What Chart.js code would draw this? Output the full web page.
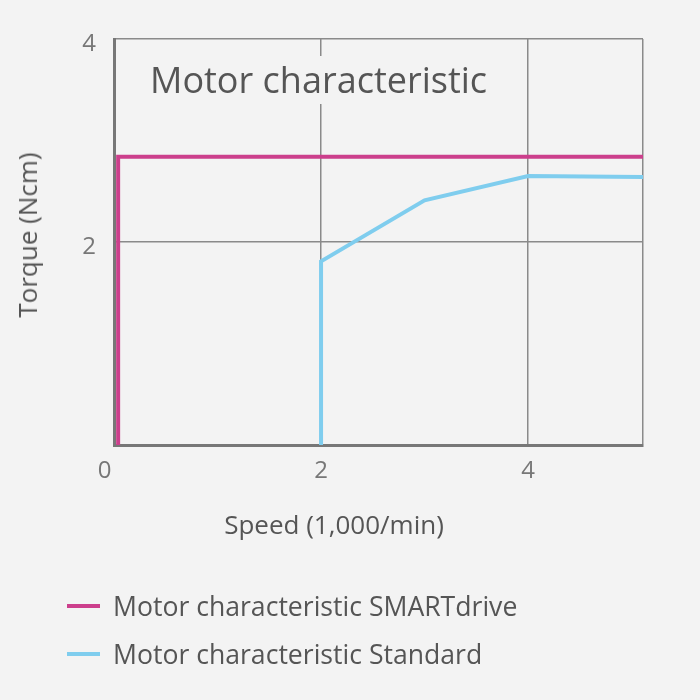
<!DOCTYPE html>
<html>
<head>
<meta charset="utf-8">
<script src="https://cdn.jsdelivr.net/npm/chart.js@4.4.1/dist/chart.umd.min.js"></script>
<style>
  html, body { margin: 0; padding: 0; background: #f3f3f3; }
  #wrap { position: relative; width: 700px; height: 700px; font-family: "Open Sans", sans-serif; color: #555; }
  #chart { position: absolute; left: 0; top: 0; }
  .lbl { position: absolute; white-space: nowrap; }
  #title { left: 146px; top: 56px; font-size: 36px; background: #f3f3f3; padding: 0 4px; line-height: 48px; }
  #ytitle { left: 27px; top: 235px; font-size: 26px; transform: translate(-50%, -50%) rotate(-90deg); }
  #xtitle { left: 334px; top: 524px; font-size: 26px; transform: translate(-50%, -50%); }
  #legend { position: absolute; left: 67px; top: 582px; }
  .row { display: flex; align-items: center; height: 48px; font-size: 26.6px; }
  .swatch { width: 33px; height: 4px; margin-right: 13px; }
</style>
</head>
<body>
<div id="wrap">
  <canvas id="chart" width="700" height="700"></canvas>
  <div class="lbl" id="title">Motor characteristic</div>
  <div class="lbl" id="ytitle">Torque (Ncm)</div>
  <div class="lbl" id="xtitle">Speed (1,000/min)</div>
  <div id="legend"></div>
</div>
<script>
  // ── 데이터 ───────────────────────────────────────────
  var SERIES_NAMES = ["Motor characteristic SMARTdrive", "Motor characteristic Standard"];
  var SERIES_COLORS = ["#cc3f8c", "#7fcdee"];
  var SMART_SPEED = [0.04, 0.04, 5.11];
  var SMART_TORQUE = [0, 2.84, 2.84];
  var STD_SPEED = [2, 2, 3, 4, 5.11];
  var STD_TORQUE = [0, 1.81, 2.41, 2.65, 2.64];
  var X_MAX = 5.11;
  var Y_MAX = 4;
  var TICK_STEP = 2;

  function toPoints(xs, ys) {
    return xs.map(function (x, i) { return { x: x, y: ys[i] }; });
  }

  var GRID = "#8a8a8a";
  var AXIS = "#777";
  var TICK_FONT = { family: "Open Sans", size: 24 };

  new Chart(document.getElementById("chart").getContext("2d"), {
    type: "line",
    data: {
      datasets: [
        {
          label: SERIES_NAMES[0],
          data: toPoints(SMART_SPEED, SMART_TORQUE),
          borderColor: SERIES_COLORS[0],
          borderWidth: 4,
          borderJoinStyle: "miter",
          pointRadius: 0,
          tension: 0,
        },
        {
          label: SERIES_NAMES[1],
          data: toPoints(STD_SPEED, STD_TORQUE),
          borderColor: SERIES_COLORS[1],
          borderWidth: 4,
          borderJoinStyle: "miter",
          pointRadius: 0,
          tension: 0,
        },
      ],
    },
    options: {
      responsive: false,
      animation: false,
      layout: { padding: { left: 0, top: 39, right: 57, bottom: 0 } },
      plugins: { legend: { display: false }, tooltip: { enabled: false } },
      scales: {
        x: {
          type: "linear",
          min: 0,
          max: X_MAX,
          afterFit: function (s) { s.height = 255; },
          ticks: {
            stepSize: TICK_STEP,
            color: AXIS,
            font: TICK_FONT,
            padding: 12,
            maxRotation: 0,
            // 원점 라벨은 축 왼쪽으로 살짝 밀림
            callback: function (v) {
              if (v === 0) return "0   ";
              return v % TICK_STEP === 0 ? v : "";
            },
          },
          grid: { color: GRID, lineWidth: 1.5, drawTicks: false },
          border: { color: AXIS, width: 3 },
        },
        y: {
          min: 0,
          max: Y_MAX,
          afterFit: function (s) { s.width = 114; },
          ticks: {
            stepSize: TICK_STEP,
            color: AXIS,
            font: TICK_FONT,
            padding: 18,
            labelOffset: 5,
            callback: function (v) { return v === 0 ? "" : v; },
          },
          grid: { color: GRID, lineWidth: 1.5, drawTicks: false },
          border: { color: AXIS, width: 3 },
        },
      },
    },
  });

  // ── 범례 (HTML) ─────────────────────────────────────
  var legend = document.getElementById("legend");
  SERIES_NAMES.forEach(function (name, i) {
    var row = document.createElement("div");
    row.className = "row";
    var sw = document.createElement("span");
    sw.className = "swatch";
    sw.style.background = SERIES_COLORS[i];
    var tx = document.createElement("span");
    tx.textContent = name;
    row.appendChild(sw);
    row.appendChild(tx);
    legend.appendChild(row);
  });
</script>
</body>
</html>
